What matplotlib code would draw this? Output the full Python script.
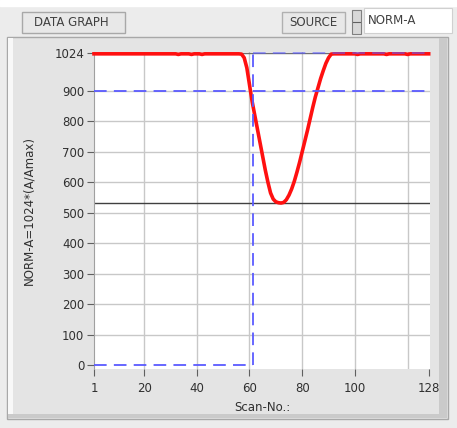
import numpy as np
import matplotlib.pyplot as plt
from matplotlib.patches import Rectangle

# --- data ---
scan_no = np.arange(1, 129)
dip_y = [1020, 1008, 975, 920, 865, 820, 775, 730, 685, 640, 600, 565, 545, 536,
         533, 532, 534, 543, 558, 578, 603, 633, 665, 700, 735, 770, 808, 845,
         880, 910, 940, 966, 990, 1008, 1020]          # scans 57..91
flat_left = [1021, 1021, 1021, 1021, 1021, 1021, 1021, 1021, 1021, 1021,
             1021, 1021, 1021, 1021, 1021, 1021, 1021, 1021, 1021, 1021,
             1021, 1021, 1021, 1021, 1021, 1021, 1021, 1021, 1021, 1021,
             1021, 1021, 1019, 1021, 1021, 1021, 1021, 1019, 1021, 1021,
             1021, 1019, 1021, 1021, 1021, 1021, 1021, 1021, 1021, 1021,
             1021, 1021, 1021, 1021, 1021, 1021]          # scans 1..56
flat_right = [1021, 1021, 1021, 1021, 1021, 1021, 1021, 1021, 1021, 1019,
              1021, 1021, 1021, 1021, 1021, 1021, 1021, 1021, 1021, 1021,
              1019, 1021, 1021, 1021, 1021, 1021, 1021, 1021, 1019, 1021,
              1021, 1021, 1021, 1021, 1021, 1021, 1021]   # scans 92..128
norm_a = flat_left + dip_y + flat_right

cursor_x = 61.5
upper_level = 900
min_level = 533
y_ticks = [0, 100, 200, 300, 400, 500, 600, 700, 800, 900, 1024]
x_ticks = [1, 20, 40, 60, 80, 100, 128]
x_grid = [20, 40, 60, 80, 100, 120]

W, H = 457, 428
fig = plt.figure(figsize=(W / 100, H / 100), dpi=100)
fig.patch.set_facecolor('#ececec')

def px(x, y, w, h):
    return [x / W, 1 - (y + h) / H, w / W, h / H]

FONT = 'DejaVu Sans Condensed'

# panel frame
bg = fig.add_axes([0, 0, 1, 1])
bg.set_xlim(0, W)
bg.set_ylim(H, 0)
bg.axis('off')
bg.add_patch(Rectangle((0, 0), W, 6, color='white'))
bg.add_patch(Rectangle((7, 37), 441, 382, facecolor='#e4e4e4', edgecolor='#a8a8a8', lw=1))
bg.add_patch(Rectangle((8, 38), 5, 380, facecolor='#f8f8f8', edgecolor='none'))
bg.add_patch(Rectangle((439, 38), 8, 380, facecolor='#cacaca', edgecolor='none'))
bg.add_patch(Rectangle((8, 414), 439, 4, facecolor='#cacaca', edgecolor='none'))
# header controls
bg.add_patch(Rectangle((22, 12), 103, 21, facecolor='#e8e8e8', edgecolor='#a8a8a8', lw=1))
bg.text(71, 22.5, 'DATA GRAPH', ha='center', va='center', fontsize=8.5,
        family=FONT, color='#404040')
bg.add_patch(Rectangle((282, 12), 63, 21, facecolor='#e8e8e8', edgecolor='#b0b0b0', lw=1))
bg.text(313, 22.5, 'SOURCE', ha='center', va='center', fontsize=8.5,
        family=FONT, color='#404040')
bg.add_patch(Rectangle((352, 10), 9, 24, facecolor='#d8d8d8', edgecolor='#808080', lw=0.8))
bg.plot([353, 360], [22, 22], color='#606060', lw=0.8)
bg.add_patch(Rectangle((364, 8), 88, 25, facecolor='white', edgecolor='#d0d0d0', lw=0.8))
bg.text(368, 20.5, 'NORM-A', ha='left', va='center', fontsize=8.5,
        family=FONT, color='#404040')

# plot area
ax = fig.add_axes(px(94, 52, 336, 317))
ax.set_facecolor('white')
ax.set_xlim(1, 128.5)
ax.set_ylim(-12, 1027)

for g in x_grid:
    ax.axvline(g, color='#c8c8c8', lw=1, zorder=1)
for g in y_ticks[1:-1]:
    ax.axhline(g, color='#c8c8c8', lw=1, zorder=1)
ax.axhline(1024, color='#707070', lw=1, zorder=1)

ax.plot([1, 128], [min_level, min_level], color='#404040', lw=1, zorder=2)
ax.plot(scan_no, norm_a, color='#ff1010', lw=2.6, zorder=3, clip_on=False)

dash = dict(color='#5a5aff', lw=1.3, dashes=(7, 4), zorder=4)
ax.plot([1, 128], [upper_level, upper_level], **dash)
ax.plot([1, cursor_x], [0, 0], **dash)
ax.plot([cursor_x, cursor_x], [0, 1024], **dash)
ax.plot([cursor_x, 128], [1024, 1024], color='#5a5aff', lw=1.3, dashes=(7, 4),
        alpha=0.6, zorder=4, clip_on=False)

for s in ['top', 'right', 'bottom']:
    ax.spines[s].set_visible(False)
ax.spines['left'].set_color('#a0a0a0')

ax.set_yticks(y_ticks)
ax.set_yticklabels([str(v) for v in y_ticks])
ax.set_xticks(x_ticks)
ax.set_xticklabels([str(v) for v in x_ticks])
ax.tick_params(axis='y', length=5, color='#606060', labelsize=8.5, labelcolor='#303030', pad=2)
ax.tick_params(axis='x', length=5, color='#606060', labelsize=8.5, labelcolor='#303030', pad=4)
for lbl in ax.get_xticklabels() + ax.get_yticklabels():
    lbl.set_family(FONT)

ax.set_ylabel('NORM-A=1024*(A/Amax)', fontsize=8.5, family=FONT,
              color='#303030', labelpad=14)
ax.set_xlabel('Scan-No.:', fontsize=8.5, family=FONT,
              color='#303030', labelpad=5)

fig.savefig('out.png', dpi=100, facecolor=fig.get_facecolor())
